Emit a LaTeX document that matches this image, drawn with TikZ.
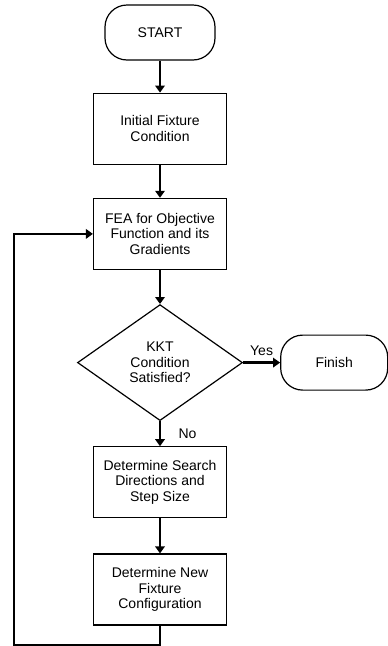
\documentclass[tikz,border=0pt]{standalone}
\usepackage{fontspec}
\setmainfont{Liberation Sans}
\usetikzlibrary{positioning, arrows.meta, shapes.geometric}

\begin{document}
\begin{tikzpicture}[
      node distance=33pt,
      font=\fontsize{14}{15.5}\selectfont,
      box/.style={draw, line width=1.2pt, align=center, minimum width=133pt, minimum height=71pt, inner sep=2pt},
      term/.style={draw, line width=1.2pt, rounded corners=22pt, align=center, minimum width=110pt, minimum height=55pt},
      decision/.style={draw, line width=1.2pt, diamond, align=center, inner sep=0pt, minimum width=165pt, minimum height=116pt},
      arr/.style={line width=2.6pt, -{Triangle[length=7pt, width=9.5pt]}}
    ]
    \useasboundingbox (0,0) rectangle (388pt,-646pt);

    \node[term] (start) at (160pt,-32.5pt) {START};
    \node[box, below=32pt of start] (init) {Initial Fixture\\Condition};
    \node[box, below=of init] (fea) {FEA for Objective\\Function and its\\Gradients};
    \node[decision, below=34pt of fea] (kkt) {KKT\\Condition\\Satisfied?};
    \node[term, minimum width=107pt, right=37pt of kkt] (finish) {Finish};
    \node[box, below=25pt of kkt] (search) {Determine Search\\Directions and\\Step Size};
    \node[box, below=35pt of search] (newcfg) {Determine New\\Fixture\\Configuration};

    % return path of the iteration
    \coordinate[below=20pt of newcfg] (loopbot);
    \coordinate (loopleft) at (14pt,-400pt);

    \draw[arr] (start) -- (init);
    \draw[arr] (init) -- (fea);
    \draw[arr] (fea) -- (kkt);
    \draw[arr] (kkt) -- node[above=2pt] {Yes} (finish);
    \draw[arr] (kkt) -- node[right=14pt] {No} (search);
    \draw[arr] (search) -- (newcfg);
    \draw[arr] (newcfg.south) -- (loopbot) -- (loopbot -| loopleft) |- (fea.west);
  \end{tikzpicture}
\end{document}
